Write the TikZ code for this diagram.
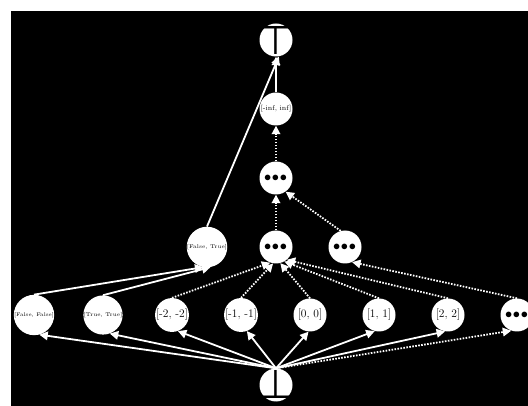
\documentclass[tikz,border=0pt]{standalone}
\usepackage{amsmath, amssymb}
\usepackage{fontspec}
\usepackage{tikz}
\usetikzlibrary{arrows.meta}

\newfontfamily\latsymfont{DejaVu Sans}
% glyph of zero size, centred on the node
\newcommand{\centresym}[1]{\makebox[0pt]{\raisebox{-0.5\height}[0pt][0pt]{#1}}}
\newcommand{\threedots}{\centresym{\fontsize{15}{15}\selectfont$\mkern-1mu{\bullet}\mkern0.8mu{\bullet}\mkern0.8mu{\bullet}$}}

\tikzset{
  lat/.style={circle, fill=white, text=black, minimum size=33pt, inner sep=0pt},
  solidarrow/.style={white, line width=1.8pt, -{Triangle[length=8.5pt,width=8.5pt]}},
  dotarrow/.style={solidarrow, dash pattern=on 1.6pt off 1.4pt},
}

\begin{document}
\begin{tikzpicture}[x=1pt, y=-1pt]
\useasboundingbox (0,0) rectangle (528,406);
% Background
\fill[black] (11,11) rectangle (528,406);

% Top part of the lattice
\node[lat] (top) at (276,40) {\raisebox{-1pt}{\centresym{\fontsize{40}{40}\latsymfont ⊤}}};
\node[lat] (inf) at (276,109) {\fontsize{7}{8}\selectfont [-inf, inf]};
\node[lat] (mid1) at (276,178) {\threedots};

% Middle row
\node[lat] (ft) at (207,247) {\fontsize{5.4}{6}\selectfont [False, True]};
\node[lat] (mid2) at (276,247) {\threedots};
\node[lat] (rdots) at (345,247) {\threedots};

% Bottom row
\node[lat] (ff) at (34,315) {\fontsize{5.2}{6}\selectfont [False, False]};
\node[lat] (tt) at (103,315) {\fontsize{5.4}{6}\selectfont [True, True]};
\node[lat] (m2) at (172,315) {\fontsize{11.5}{12}\selectfont [-2, -2]};
\node[lat] (m1) at (241,315) {\fontsize{11.5}{12}\selectfont [-1, -1]};
\node[lat] (z0) at (310,315) {\fontsize{11.5}{12}\selectfont [0, 0]};
\node[lat] (p1) at (379,315) {\fontsize{11.5}{12}\selectfont [1, 1]};
\node[lat] (p2) at (448,315) {\fontsize{11.5}{12}\selectfont [2, 2]};
\node[lat] (bdots) at (517,315) {\threedots};

% Bottom element
\node[lat] (bot) at (276,385) {\raisebox{1pt}{\centresym{\fontsize{40}{40}\latsymfont ⊥}}};

% Edges to the top
\draw[solidarrow] (inf.north) -- (top.south);
\draw[solidarrow] (ft.north) -- (top.-80);
\draw[dotarrow] (mid1.north) -- (inf.south);
\draw[dotarrow] (mid2.north) -- (mid1.south);
\draw[dotarrow] (rdots.105) -- (mid1.-55);

% Bottom row to middle row
\draw[solidarrow] (ff.north) -- (ft.-100);
\draw[solidarrow] (tt.north) -- (ft.-80);
\draw[dotarrow] (m2.north) -- (mid2.-110);
\draw[dotarrow] (m1.north) -- (mid2.-100);
\draw[dotarrow] (z0.north) -- (mid2.-75);
\draw[dotarrow] (p1.north) -- (mid2.-60);
\draw[dotarrow] (p2.north) -- (mid2.-50);
\draw[dotarrow] (bdots.north) -- (rdots.-65);

% Edges from the bottom element
\draw[solidarrow] (bot.north) -- (ff.-75);
\draw[solidarrow] (bot.north) -- (tt.-70);
\draw[solidarrow] (bot.north) -- (m2.-70);
\draw[solidarrow] (bot.north) -- (m1.-70);
\draw[solidarrow] (bot.north) -- (z0.-95);
\draw[solidarrow] (bot.north) -- (p1.-105);
\draw[solidarrow] (bot.north) -- (p2.-100);
\draw[dotarrow] (bot.north) -- (bdots.-110);
\end{tikzpicture}
\end{document}
